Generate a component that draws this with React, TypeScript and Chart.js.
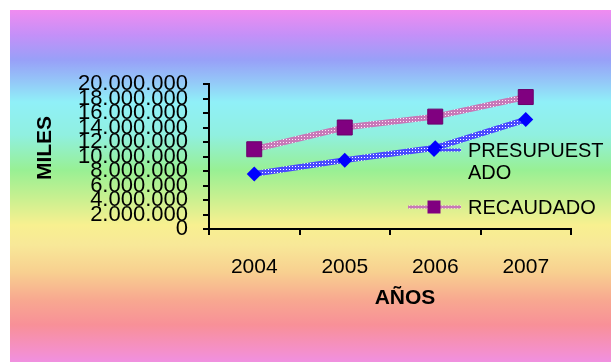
import React, { useEffect, useRef } from 'react';
import { Chart, registerables } from 'chart.js';

Chart.register(...registerables);

const years = ['2004', '2005', '2006', '2007'];
const presupuestado = [7600000, 9500000, 11200000, 15100000];
const recaudado = [11000000, 14000000, 15500000, 18200000];
const yMin = 0;
const yMax = 20000000;
const yStep = 2000000;
const seriesNames = ['PRESUPUESTADO', 'RECAUDADO'];
const legendText = [['PRESUPUEST', 'ADO'], ['RECAUDADO']];
const yTitle = 'MILES';
const xTitle = 'AÑOS';

const FONT = '"Liberation Sans", Arial, sans-serif';

const fmt = (v: number) => String(v).replace(/\B(?=(\d{3})+(?!\d))/g, '.');

function makePattern(ctx: CanvasRenderingContext2D, fg: string, dot: string) {
  const c = document.createElement('canvas');
  c.width = 3;
  c.height = 3;
  const g = c.getContext('2d')!;
  g.fillStyle = fg;
  g.fillRect(0, 0, 3, 3);
  g.fillStyle = dot;
  g.fillRect(1, 1, 1, 1);
  return ctx.createPattern(c, 'repeat')!;
}

function drawDiamond(ctx: CanvasRenderingContext2D, x: number, y: number, r: number, color: string) {
  ctx.beginPath();
  ctx.moveTo(x, y - r);
  ctx.lineTo(x + r, y);
  ctx.lineTo(x, y + r);
  ctx.lineTo(x - r, y);
  ctx.closePath();
  ctx.fillStyle = color;
  ctx.fill();
}

export default function App() {
  const ref = useRef<HTMLCanvasElement>(null);

  useEffect(() => {
    const canvas = ref.current!;
    const ctx = canvas.getContext('2d')!;
    const bluePat = makePattern(ctx, '#4a4aff', '#ffffff');
    const purplePat = makePattern(ctx, '#c878b8', '#ffe8f8');

    const overlay = {
      id: 'overlay',
      afterDatasetsDraw(chart: any) {
        const c = chart.ctx as CanvasRenderingContext2D;
        c.save();
        // legend
        const items = [
          { pat: bluePat, y: 150, marker: 'diamond', color: '#0000ff', lines: legendText[0] },
          { pat: purplePat, y: 207, marker: 'square', color: '#800080', lines: legendText[1] },
        ];
        items.forEach((it) => {
          c.strokeStyle = it.pat;
          c.lineWidth = 3;
          c.beginPath();
          c.moveTo(408, it.y);
          c.lineTo(461, it.y);
          c.stroke();
          if (it.marker === 'diamond') {
            drawDiamond(c, 434, it.y, 7, it.color);
          } else {
            c.fillStyle = it.color;
            c.fillRect(434 - 6.5, it.y - 6.5, 13, 13);
          }
          c.fillStyle = '#000';
          c.font = `20px ${FONT}`;
          c.textAlign = 'left';
          c.textBaseline = 'middle';
          it.lines.forEach((t, i) => c.fillText(t, 468, it.y + 1 + i * 22));
        });
        // axis titles
        c.font = `bold 21px ${FONT}`;
        c.textAlign = 'center';
        c.textBaseline = 'middle';
        c.fillStyle = '#000';
        c.fillText(xTitle, 405, 298);
        c.translate(45, 148);
        c.rotate(-Math.PI / 2);
        c.fillText(yTitle, 0, 0);
        c.restore();
      },
    };

    const chart = new Chart(canvas, {
      type: 'line',
      data: {
        labels: years,
        datasets: [
          {
            label: seriesNames[0],
            data: presupuestado,
            borderColor: bluePat as any,
            borderWidth: 6,
            tension: 0,
            pointStyle: 'rectRot',
            pointRadius: 7.5,
            pointBackgroundColor: '#0000ff',
            pointBorderColor: '#0000ff',
            pointBorderWidth: 0,
          },
          {
            label: seriesNames[1],
            data: recaudado,
            borderColor: purplePat as any,
            borderWidth: 6,
            tension: 0,
            pointStyle: 'rect',
            pointRadius: 10.6,
            pointBackgroundColor: '#800080',
            pointBorderColor: '#6a006a',
            pointBorderWidth: 1,
          },
        ],
      },
      options: {
        animation: false,
        responsive: false,
        maintainAspectRatio: false,
        layout: { padding: { left: 0, top: 84, right: 40, bottom: 52 } },
        plugins: { legend: { display: false }, tooltip: { enabled: false } },
        scales: {
          x: {
            offset: true,
            grid: { offset: true, drawOnChartArea: false, drawTicks: true, tickLength: 6, color: '#000', lineWidth: 2 },
            border: { display: true, color: '#000', width: 2 },
            ticks: { color: '#000', font: { family: FONT, size: 21 }, padding: 20, maxRotation: 0 },
            afterFit: (s: any) => { s.height = 81; },
          },
          y: {
            min: yMin,
            max: yMax,
            grid: { drawOnChartArea: false, drawTicks: true, tickLength: 6, color: '#000', lineWidth: 2 },
            border: { display: true, color: '#000', width: 2 },
            ticks: {
              stepSize: yStep,
              autoSkip: false,
              color: '#000',
              font: { family: FONT, size: 22 },
              padding: 15,
              callback: (v: any) => fmt(Number(v)),
            },
            afterFit: (s: any) => { s.width = 209; },
          },
        },
      },
      plugins: [overlay],
    });
    return () => chart.destroy();
  }, []);

  const gradient =
    'linear-gradient(to bottom, #f08cf0 0px, #c490f8 25px, #98a0f8 50px, #94c8f8 72px, #90f0f8 92px, #90f0e0 125px, #98f094 160px, #c8f090 188px, #f8f090 215px, #f8e898 235px, #f8d090 262px, #f8a890 290px, #f89098 315px, #f490c8 340px, #f090e0 352px)';

  return (
    <div style={{ position: 'fixed', left: 0, top: 0, width: 611, height: 362, background: '#fff', overflow: 'hidden' }}>
      <div style={{ position: 'absolute', left: 10, top: 10, width: 601, height: 352, background: gradient }} />
      <canvas ref={ref} width={611} height={362} style={{ position: 'absolute', left: 0, top: 0, width: 611, height: 362 }} />
    </div>
  );
}
